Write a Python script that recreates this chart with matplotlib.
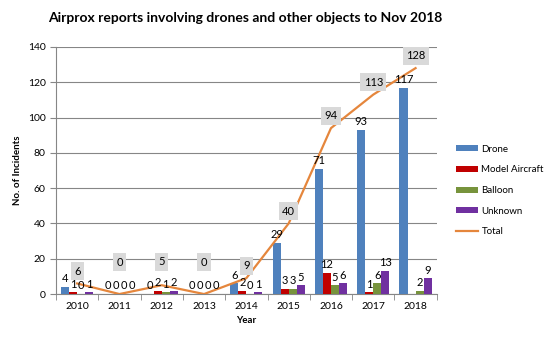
import numpy as np
import matplotlib.pyplot as plt

plt.rcParams['font.family'] = ['Lato', 'DejaVu Sans']

years = ['2010', '2011', '2012', '2013', '2014', '2015', '2016', '2017', '2018']
drone = [4, 0, 0, 0, 6, 29, 71, 93, 117]
model_aircraft = [1, 0, 2, 0, 2, 3, 12, 1, 0]
balloon = [0, 0, 1, 0, 0, 3, 5, 6, 2]
unknown = [1, 0, 2, 0, 1, 5, 6, 13, 9]
total = [6, 0, 5, 0, 9, 40, 94, 113, 128]

series = [('Drone', drone, '#4f81bd'),
          ('Model Aircraft', model_aircraft, '#c00000'),
          ('Balloon', balloon, '#77933c'),
          ('Unknown', unknown, '#7030a0')]

fig = plt.figure(figsize=(5.51, 3.53), dpi=100)
ax = fig.add_axes([0.1016, 0.167, 0.691, 0.70])

x = np.arange(len(years))
w = 0.19
handles = []
for i, (name, vals, col) in enumerate(series):
    pos = x + (i - 1.5) * w
    b = ax.bar(pos, vals, width=w, color=col, label=name, zorder=3)
    handles.append(b)
    for j, (p, v) in enumerate(zip(pos, vals)):
        if name == 'Model Aircraft' and years[j] == '2018':
            continue  # no label shown in the original
        ax.text(p, v + 1.5, str(v), ha='center', va='bottom', fontsize=8, zorder=5)

ln, = ax.plot(x, total, color='#e5863c', lw=1.6, label='Total', zorder=4)
handles.append(ln)
# total labels sit higher where they'd clash with the bar labels
lift = [5, 19, 13, 19, 5, 5, 5, 5, 5]
for xi, t, dy in zip(x, total, lift):
    ax.annotate(str(t), (xi, t), xytext=(0, dy), textcoords='offset points',
                ha='center', va='bottom', fontsize=8, zorder=6,
                bbox=dict(boxstyle='square,pad=0.3', fc='#d9d9d9', ec='none'))

ax.set_xlim(-0.5, len(years) - 0.5)
ax.set_ylim(0, 140)
ax.set_yticks(range(0, 141, 20))
ax.set_xticks(x)
ax.set_xticklabels(years)
ax.set_xticks(np.arange(-0.5, len(years)), minor=True)
ax.tick_params(axis='x', which='major', length=0, labelsize=7.5, pad=6)
ax.tick_params(axis='x', which='minor', length=4, color='#868686')
ax.tick_params(axis='y', length=4, color='#868686', labelsize=7.5, direction='out')
ax.grid(axis='y', color='#868686', lw=0.8, zorder=0)
for s in ['top', 'right']:
    ax.spines[s].set_visible(False)
ax.spines['left'].set_color('#868686')
ax.spines['bottom'].set_color('#868686')

ax.set_xlabel('Year', fontsize=7, fontweight='bold', labelpad=3)
ax.set_ylabel('No. of Incidents', fontsize=7, fontweight='bold', labelpad=4)
fig.suptitle('Airprox reports involving drones and other objects to Nov 2018',
             x=0.445, y=0.965, fontsize=10, fontweight='bold')

fig.legend(handles=handles, labels=[h.get_label() for h in handles],
           loc='center left', bbox_to_anchor=(0.812, 0.46), frameon=False,
           fontsize=7, handlelength=2.2, labelspacing=1.2, handleheight=0.6,
           handletextpad=0.4)

fig.savefig('out.png', dpi=100)
